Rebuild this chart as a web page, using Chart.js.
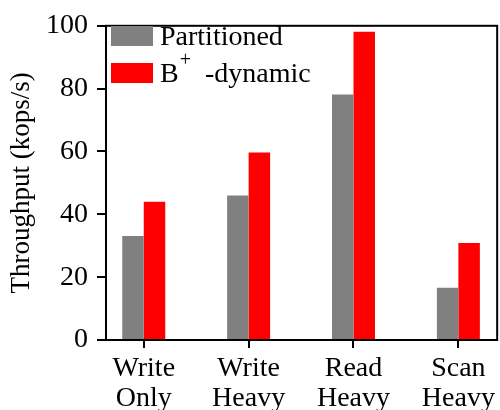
<!DOCTYPE html>
<html>
<head>
<meta charset="utf-8">
<script src="https://cdn.jsdelivr.net/npm/chart.js@4.4.1/dist/chart.umd.min.js"></script>
<style>
  html, body { margin: 0; padding: 0; background: #fff; }
  #wrap { width: 500px; height: 410px; position: relative; }
</style>
</head>
<body>
<div id="wrap"><canvas id="chart"></canvas></div>
<script>
// workload categories (two-line tick labels)
const CATEGORIES = [['Write', 'Only'], ['Write', 'Heavy'], ['Read', 'Heavy'], ['Scan', 'Heavy']];
const PARTITIONED = [33.1, 46.0, 78.1, 16.6];
const BPLUS_DYNAMIC = [44.0, 59.7, 98.1, 30.9];
const Y_TICKS = [0, 20, 40, 60, 80, 100];

const FONT = "'Liberation Serif', 'Times New Roman', serif";

const toPoints = (vals) => vals.map((v, i) => ({ x: i, y: v }));

// box round the plot + legend in upper-left corner (matplotlib style)
const framePlugin = {
  id: 'frame',
  afterDraw(chart) {
    const { ctx, chartArea: a } = chart;
    ctx.save();
    ctx.strokeStyle = '#000';
    ctx.lineWidth = 2;
    ctx.strokeRect(a.left, a.top, a.right - a.left, a.bottom - a.top);

    const ds = chart.data.datasets;
    const rowY = [26, 63];
    ctx.textBaseline = 'alphabetic';
    ds.forEach((d, i) => {
      const y = rowY[i];
      ctx.fillStyle = d.backgroundColor;
      ctx.fillRect(a.left + 5, y, 42, 20);
      ctx.fillStyle = '#000';
      ctx.font = `28px ${FONT}`;
      const x = a.left + 54;
      const base = y + 19;
      if (d.supParts) {
        const [pre, sup, post] = d.supParts;
        ctx.fillText(pre, x, base);
        let cx = x + ctx.measureText(pre).width + 1;
        ctx.font = `20px ${FONT}`;
        ctx.fillText(sup, cx, base - 16);
        cx += ctx.measureText(sup).width + 14;
        ctx.font = `28px ${FONT}`;
        ctx.fillText(post, cx, base);
      } else {
        ctx.fillText(d.label, x, base);
      }
    });
    ctx.restore();
  }
};

new Chart(document.getElementById('chart'), {
  type: 'bar',
  data: {
    datasets: [
      { label: 'Partitioned', data: toPoints(PARTITIONED), backgroundColor: '#808080' },
      { label: 'B+-dynamic', supParts: ['B', '+', '-dynamic'], data: toPoints(BPLUS_DYNAMIC), backgroundColor: '#ff0000' },
    ],
  },
  options: {
    responsive: true,
    maintainAspectRatio: false,
    animation: false,
    layout: { padding: { top: 20, right: 1, left: 0, bottom: 0 } },
    datasets: { bar: { categoryPercentage: 0.41, barPercentage: 1.0, borderWidth: 0 } },
    plugins: { legend: { display: false }, tooltip: { enabled: false } },
    scales: {
      x: {
        type: 'linear',
        offset: false,
        min: -0.36,
        max: 3.37,
        afterBuildTicks: (s) => { s.ticks = CATEGORIES.map((_, i) => ({ value: i })); },
        afterFit: (s) => { s.height = 70; },
        ticks: {
          callback: (v) => CATEGORIES[v] || '',
          color: '#000',
          font: { family: FONT, size: 28, lineHeight: 1.09 },
          padding: 5,
          maxRotation: 0,
          autoSkip: false,
        },
        grid: { offset: false, drawOnChartArea: false, drawTicks: true, tickLength: 8, color: '#000', lineWidth: 2 },
        border: { display: true, color: '#000', width: 2 },
      },
      y: {
        min: 0,
        max: 100,
        afterBuildTicks: (s) => { s.ticks = Y_TICKS.map((v) => ({ value: v })); },
        afterFit: (s) => { s.width = 106; },
        ticks: {
          color: '#000',
          font: { family: FONT, size: 28 },
          padding: 9,
        },
        grid: { drawOnChartArea: false, drawTicks: true, tickLength: 9, color: '#000', lineWidth: 2 },
        border: { display: true, color: '#000', width: 2 },
        title: {
          display: true,
          text: 'Throughput (kops/s)',
          color: '#000',
          font: { family: FONT, size: 27 },
          padding: { top: 6, bottom: 0 },
        },
      },
    },
  },
  plugins: [framePlugin],
});
</script>
</body>
</html>
